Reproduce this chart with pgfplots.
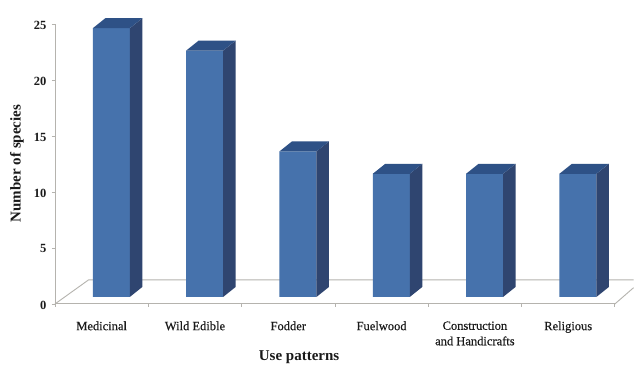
\documentclass[border=0pt]{standalone}
\usepackage{pgfplots}
\pgfplotsset{compat=1.18}
\usepackage{fontspec}
\setmainfont{Liberation Serif}
\newfontfamily\catfont[FakeBold=0.35]{Liberation Serif}
\definecolor{barfront}{HTML}{4672AC}
\definecolor{barside}{HTML}{2F4570}
\definecolor{bartop}{HTML}{2E5186}
\definecolor{axisgray}{HTML}{B5B3AE}
\definecolor{labelink}{HTML}{1A1A1A}
\begin{document}
\begin{tikzpicture}[x=1pt,y=1pt]
\path[fill=white] (-55,-58) rectangle (579,304);
% Frame of the chart: value scale, category scale and receding floor
\begin{axis}[
  at={(0,0)}, anchor=south west,
  width=560pt, height=280pt, scale only axis,
  xmin=-0.5, xmax=5.5, ymin=0, ymax=25,
  clip=false,
  axis lines=left,
  axis line style={-, draw=axisgray, line width=0.9pt},
  ytick={0,5,10,15,20,25},
  xtick={0,...,5},
  xticklabels={Medicinal,Wild Edible,Fodder,Fuelwood,{Construction\\and Handicrafts},Religious},
  minor xtick={-0.5,0.5,...,5.5},
  major tick length=3pt,
  minor tick length=3pt,
  tick align=outside,
  x tick style={draw=none},
  minor x tick style={draw=axisgray, line width=0.8pt},
  y tick style={draw=axisgray, line width=0.8pt},
  /pgf/number format/assume math mode=true,
  yticklabel style={font=\fontsize{12.5}{12.5}\selectfont\bfseries, text=labelink, xshift=-2pt, yshift=-1pt},
  xticklabel style={font=\fontsize{12.5}{15.5}\catfont, text=labelink, align=center, yshift=-11pt},
  xlabel={Use patterns},
  ylabel={Number of species},
  xlabel style={at={(axis description cs:0.436,-0.189)}, anchor=center, font=\fontsize{15}{15}\selectfont\bfseries, text=labelink},
  ylabel style={at={(axis description cs:-0.068,0.5015)}, anchor=center, rotate=0, font=\fontsize{15}{15}\selectfont\bfseries, text=labelink},
]
\addplot[draw=axisgray, line width=0.9pt, forget plot] coordinates {(-0.5,0) (-0.14,2.15) (5.7,2.15)};
\addplot[draw=axisgray, line width=0.9pt, forget plot] coordinates {(5.5,0) (5.7,1.45)};
\end{axis}
% Bars on the front plane, whose zero lies seven points above the floor edge
\begin{axis}[
  at={(0,0)}, anchor=south west,
  width=560pt, height=280pt, scale only axis,
  xmin=-0.5, xmax=5.5, ymin=-0.625, ymax=24.375,
  clip=false, hide axis,
]
\addplot[
  scatter, only marks, mark=none, draw=none, forget plot,
  visualization depends on={\thisrow{species} \as \barvalue},
  scatter/@pre marker code/.code={%
    \pgfscope
    \pgfsetfillcolor{barside}%
    \pgfpathmoveto{\pgfpoint{28.2pt}{0pt}}%
    \pgfpathlineto{\pgfpoint{40.7pt}{10pt}}%
    \pgfpathlineto{\pgfpoint{40.7pt}{10pt-\barvalue*11.2pt}}%
    \pgfpathlineto{\pgfpoint{28.2pt}{-\barvalue*11.2pt}}%
    \pgfpathclose
    \pgfusepath{fill}%
    \pgfsetfillcolor{bartop}%
    \pgfpathmoveto{\pgfpoint{-8.8pt}{0pt}}%
    \pgfpathlineto{\pgfpoint{3.7pt}{10pt}}%
    \pgfpathlineto{\pgfpoint{40.7pt}{10pt}}%
    \pgfpathlineto{\pgfpoint{28.2pt}{0pt}}%
    \pgfpathclose
    \pgfusepath{fill}%
  },
  scatter/@post marker code/.code={\endpgfscope},
] table[x=pos, y=species] {
pos species
0 24
1 22
2 13
3 11
4 11
5 11
};
\addplot[ybar, bar width=37pt, bar shift=9.7pt, fill=barfront, draw=none] table[x=pos, y=species] {
pos species
0 24
1 22
2 13
3 11
4 11
5 11
};
\end{axis}
\useasboundingbox (-55,-58) rectangle (579,304);
\end{tikzpicture}
\end{document}
